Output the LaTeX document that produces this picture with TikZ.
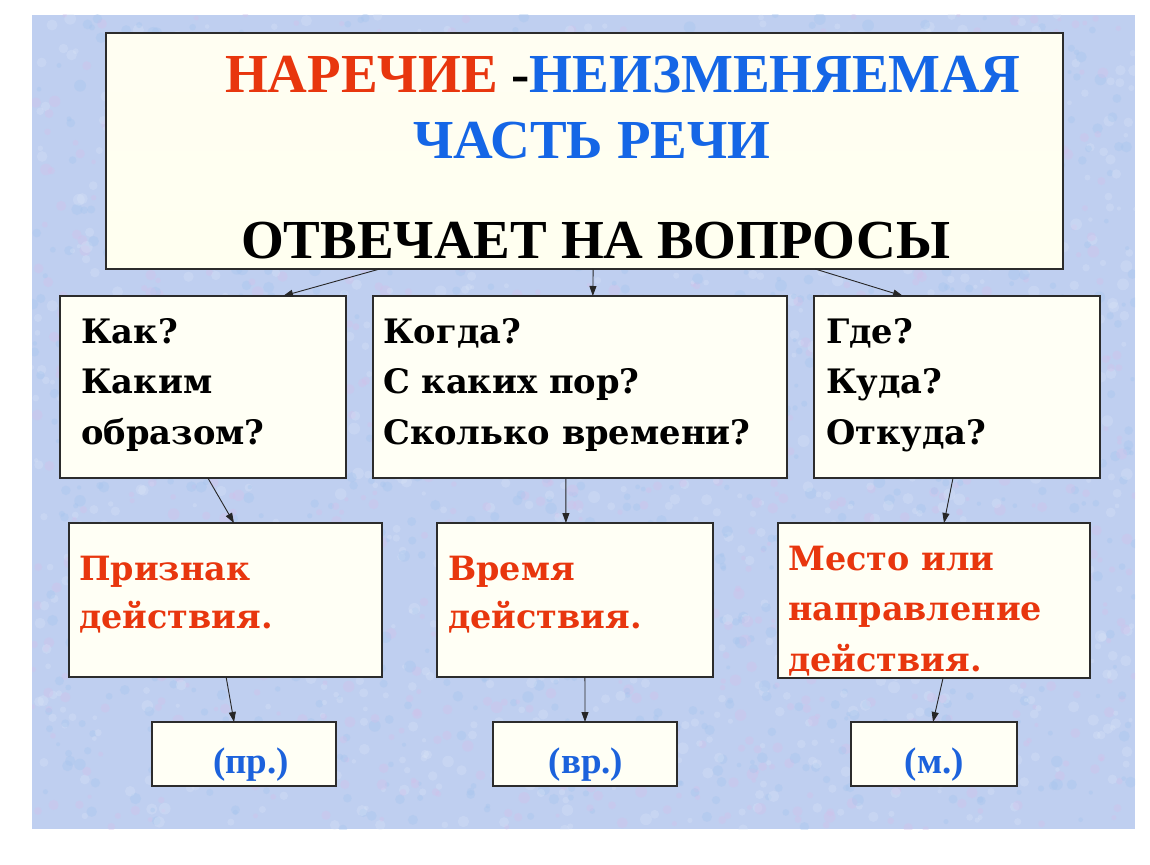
\documentclass[tikz,border=0pt]{standalone}
\usepackage{fontspec}
\setmainfont{Liberation Serif}
\newfontfamily\boxfont{DejaVu Serif}
\usetikzlibrary{arrows.meta,calc}
\definecolor{bgblue}{HTML}{BFCFF0}
\definecolor{dotpink}{HTML}{D4C0EA}
\definecolor{dotblue}{HTML}{A4C4EE}
\definecolor{dotwhite}{HTML}{DCE6F8}
\definecolor{tred}{HTML}{E8360E}
\definecolor{tblue}{HTML}{1566E6}
\definecolor{sblue}{HTML}{1C62DC}
\definecolor{boxfill}{HTML}{FFFFF5}
\definecolor{topA}{HTML}{FFFEF2}
\definecolor{topB}{HTML}{FFFFD6}
\definecolor{topC}{HTML}{FFFFF0}
\definecolor{edge}{HTML}{2C2C2C}
\begin{document}
\begin{tikzpicture}[x=1pt,y=-1pt,
  box/.style={draw=edge, line width=1.3pt, fill=boxfill, rectangle, inner sep=0pt, outer sep=0pt, anchor=north west},
  arr/.style={draw=black!85, line width=0.9pt, -{Triangle[length=10pt,width=7pt]}},
  titlefont/.style={font=\bfseries\fontsize{55}{60}\selectfont},
  qtext/.style={anchor=base west, inner sep=0pt, font=\boxfont\bfseries\fontsize{33.7}{50.5}\selectfont, text=black},
  rtext/.style={anchor=base west, inner sep=0pt, font=\boxfont\bfseries\fontsize{33.4}{48}\selectfont, text=tred},
  stext/.style={anchor=base, inner sep=0pt, font=\bfseries\fontsize{37}{40}\selectfont, text=sblue}]
\useasboundingbox (0,0) rectangle (1150,864);
\fill[white] (0,0) rectangle (1150,864);
% textured background
\fill[bgblue] (32,15) rectangle (1135,829);
\begin{scope}
\clip (32,15) rectangle (1135,829);
\pgfmathsetseed{11}
\foreach \i in {1,...,3200} {
  \pgfmathsetmacro{\px}{583.5+552*rand}
  \pgfmathsetmacro{\py}{422+408*rand}
  \pgfmathsetmacro{\pr}{2+4*rnd}
  \pgfmathtruncatemacro{\pc}{mod(\i,3)}
  \ifnum\pc=0 \fill[dotpink,opacity=0.35] (\px,\py) circle (\pr);
  \else\ifnum\pc=1 \fill[dotblue,opacity=0.35] (\px,\py) circle (\pr);
  \else \fill[dotwhite,opacity=0.3] (\px,\py) circle (\pr);
  \fi\fi
}
\end{scope}
% boxes
\node[box, minimum width=957pt, minimum height=236pt, top color=topA, middle color=topB, bottom color=topC] (top) at (106,33) {};
\node[box, minimum width=286pt, minimum height=182pt] (A) at (60,296) {};
\node[box, minimum width=414pt, minimum height=182pt] (B) at (373,296) {};
\node[box, minimum width=286pt, minimum height=182pt] (C) at (814,296) {};
\node[box, minimum width=313pt, minimum height=154pt] (D) at (69,523) {};
\node[box, minimum width=276pt, minimum height=154pt] (E) at (437,523) {};
\node[box, minimum width=312pt, minimum height=155pt] (F) at (778,523) {};
\node[box, minimum width=184pt, minimum height=64pt] (G) at (152,722) {};
\node[box, minimum width=184pt, minimum height=64pt] (H) at (493,722) {};
\node[box, minimum width=166pt, minimum height=64pt] (I) at (851,722) {};
% title texts
\node[titlefont, anchor=base west, inner sep=0pt] (t1) at (225,93) {\textcolor{tred}{НАРЕЧИЕ} -\textcolor{tblue}{НЕИЗМЕНЯЕМАЯ}};
\node[titlefont, anchor=base west, inner sep=0pt, text=tblue] (t2) at (413,158) {ЧАСТЬ РЕЧИ};
\node[titlefont, anchor=base, inner sep=0pt] (t3) at (595.5,258) {ОТВЕЧАЕТ НА ВОПРОСЫ};
% question texts
\node[qtext] (qA) at (81,343) {\vtop{\hbox{Как?}\hbox{Каким}\hbox{образом?}}};
\node[qtext] (qB) at (383,343) {\vtop{\hbox{Когда?}\hbox{С каких пор?}\hbox{Сколько времени?}}};
\node[qtext] (qC) at (826,343) {\vtop{\hbox{Где?}\hbox{Куда?}\hbox{Откуда?}}};
% meaning texts
\node[rtext] (mD) at (79,580) {\vtop{\hbox{Признак}\hbox{действия.}}};
\node[rtext] (mE) at (448,580) {\vtop{\hbox{Время}\hbox{действия.}}};
\node[rtext, font=\boxfont\bfseries\fontsize{33.4}{50.5}\selectfont] (mF) at (788,570) {\vtop{\hbox{Место или}\hbox{направление}\hbox{действия.}}};
% short forms
\node[stext] (sG) at (251,773) {(пр.)};
\node[stext] (sH) at (586,773) {(вр.)};
\node[stext] (sI) at (934.5,773) {(м.)};
% connectors
\draw[arr] ($(top.south west)!0.286!(top.south east)$) -- ($(A.north west)!0.78!(A.north east)$);
\draw[arr] ($(top.south west)!0.509!(top.south east)$) -- ($(B.north west)!0.531!(B.north east)$);
\draw[arr] ($(top.south west)!0.741!(top.south east)$) -- ($(C.north west)!0.311!(C.north east)$);
\draw[arr] ($(A.south west)!0.517!(A.south east)$) -- ($(D.north west)!0.527!(D.north east)$);
\draw[arr] ($(B.south west)!0.466!(B.south east)$) -- ($(E.north west)!0.467!(E.north east)$);
\draw[arr] ($(C.south west)!0.486!(C.south east)$) -- ($(F.north west)!0.532!(F.north east)$);
\draw[arr] ($(D.south west)!0.502!(D.south east)$) -- ($(G.north west)!0.446!(G.north east)$);
\draw[arr] ($(E.south west)!0.536!(E.south east)$) -- ($(H.north west)!0.5!(H.north east)$);
\draw[arr] ($(F.south west)!0.529!(F.south east)$) -- ($(I.north west)!0.494!(I.north east)$);
\end{tikzpicture}
\end{document}
